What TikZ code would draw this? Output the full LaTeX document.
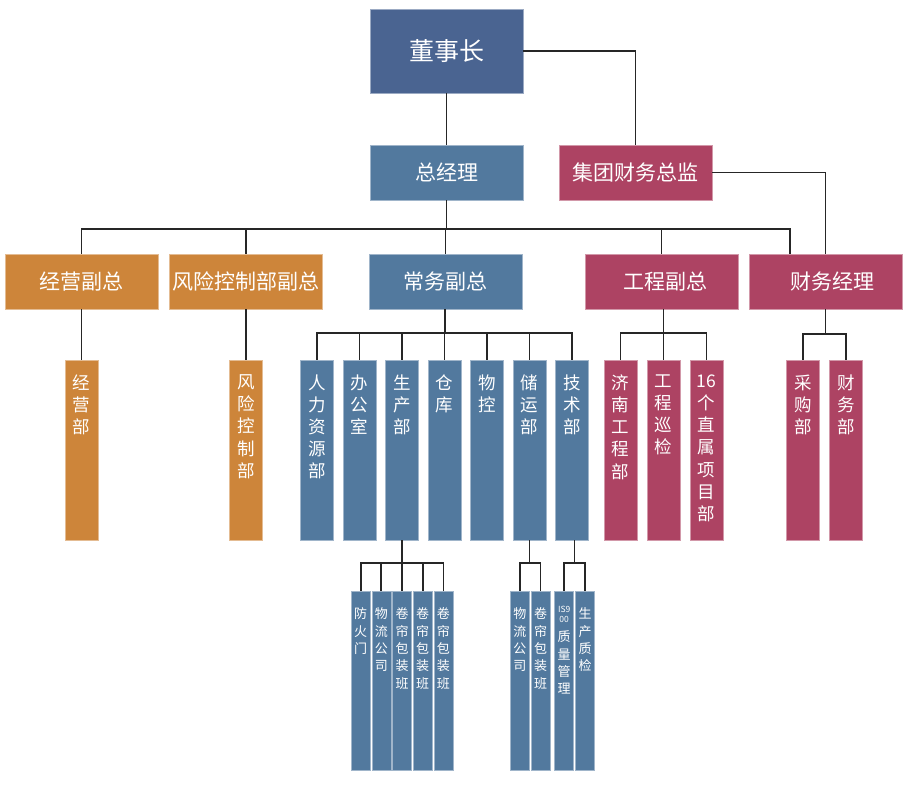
\documentclass[tikz,border=0pt]{standalone}
\usepackage{fontspec}
\setmainfont{Noto Sans CJK SC}
\definecolor{cTop}{HTML}{4A6491}
\definecolor{cBlue}{HTML}{52799E}
\definecolor{cRed}{HTML}{AD4363}
\definecolor{cOrg}{HTML}{CD853A}
\definecolor{cLine}{HTML}{262626}
\tikzset{
  ubox/.style={draw=#1!55!white, line width=0.6pt, fill=#1, inner sep=0pt, text=white},
  hbox/.style={ubox=#1, minimum width=153pt, minimum height=55pt, font=\fontsize{21}{25}\selectfont},
  colbox/.style={ubox=#1, minimum width=33pt, minimum height=180pt},
  subbox/.style={ubox=#1, minimum width=19pt, minimum height=179pt},
  coltext/.style={anchor=north, inner sep=0pt, align=center, text=white, font=\fontsize{17.5}{22.1}\selectfont},
  subtext/.style={anchor=north, inner sep=0pt, align=center, text=white, font=\fontsize{13}{17.3}\selectfont},
  conn/.style={draw=cLine, line width=1.3pt},
  connb/.style={draw=cLine, line width=1.8pt},
}
\newcommand\orgcol[4]{%
  \node[colbox=#3] (#1) at (#2,450) {};
  \node[coltext] (#1t) at ([yshift=-15pt]#1.north) {#4};}
\newcommand\orgsub[4]{%
  \node[subbox=#3] (#1) at (#2,680.5) {};
  \node[subtext] (#1t) at ([yshift=-17pt]#1.north) {#4};}
\begin{document}
\begin{tikzpicture}[x=1pt,y=-1pt]
\useasboundingbox[fill=white] (0,0) rectangle (910,793);
% top levels
\node[ubox=cTop, minimum width=153pt, minimum height=84pt, font=\fontsize{25}{30}\selectfont] (dsz) at (446.5,51) {董事长};
\node[hbox=cBlue] (zjl) at (446.5,172.5) {总经理};
\node[hbox=cRed] (cfo) at (635.5,172.5) {集团财务总监};
% level 2
\node[hbox=cOrg] (jyfz) at (81.5,281.5) {经营副总};
\node[hbox=cOrg] (fxfz) at (246,281.5) {风险控制部副总};
\node[hbox=cBlue] (cwfz) at (445.5,281.5) {常务副总};
\node[hbox=cRed] (gcfz) at (661.5,281.5) {\raisebox{-2pt}{\hspace*{7pt}工程副总}};
\node[hbox=cRed] (cwjl) at (825.5,281.5) {\hspace*{13pt}财务经理};
% level 3
\orgcol{jyb}{81.5}{cOrg}{经\\营\\部}
\orgcol{fxb}{246}{cOrg}{风\\险\\控\\制\\部}
\orgcol{rl}{317}{cBlue}{人\\力\\资\\源\\部}
\orgcol{bgs}{359.5}{cBlue}{办\\公\\室}
\orgcol{scb}{402}{cBlue}{生\\产\\部}
\orgcol{ck}{444.5}{cBlue}{仓\\库}
\orgcol{wk}{487}{cBlue}{物\\控}
\orgcol{cyb}{529.5}{cBlue}{储\\运\\部}
\orgcol{jsb}{572}{cBlue}{技\\术\\部}
\orgcol{jngc}{620.5}{cRed}{济\\南\\工\\程\\部}
\orgcol{gcxj}{663.5}{cRed}{工\\程\\巡\\检}
\orgcol{zsxm}{706.5}{cRed}{16\\个\\直\\属\\项\\目\\部}
\orgcol{cgb}{803}{cRed}{采\\购\\部}
\orgcol{cwb}{846}{cRed}{财\\务\\部}
% level 4
\orgsub{fhm}{360.6}{cBlue}{防\\火\\门}
\orgsub{wlgs}{381.3}{cBlue}{物\\流\\公\\司}
\orgsub{jla}{402}{cBlue}{卷\\帘\\包\\装\\班}
\orgsub{jlb}{422.7}{cBlue}{卷\\帘\\包\\装\\班}
\orgsub{jlc}{443.4}{cBlue}{卷\\帘\\包\\装\\班}
\orgsub{wlgsb}{519.8}{cBlue}{物\\流\\公\\司}
\orgsub{jld}{540.5}{cBlue}{卷\\帘\\包\\装\\班}
\node[subbox=cBlue] (iso) at (564.2,680.5) {};
\node[anchor=north, inner sep=0pt, align=center, text=white, font=\fontsize{8.5}{10}\selectfont] (isot) at ([yshift=-15pt]iso.north) {IS9\\00};
\node[subtext] (isoq) at ([yshift=-40pt]iso.north) {质\\量\\管\\理};
\orgsub{sczj}{585}{cBlue}{生\\产\\质\\检}
% connectors top
\draw[conn] (dsz.south) -- (zjl.north);
\draw[conn] (dsz.east) -| (cfo.north);
\draw[conn] (cfo.east) -| (cwjl.north);
\coordinate (bus1) at (446.5,229);
\coordinate (fmin) at (790,254);
\draw[conn] (zjl.south) -- (bus1);
\draw[conn] (bus1) -| (jyfz.north);
\draw[conn] (bus1) -| (fxfz.north);
\draw[conn] (bus1) -| (cwfz.north);
\draw[conn] (bus1) -| (gcfz.north);
\draw[conn] (bus1) -| (fmin);
% level 2 -> 3
\draw[conn] (jyfz.south) -- (jyb.north);
\draw[conn] (fxfz.south) -- (fxb.north);
\coordinate (bus2) at (445,333);
\draw[connb] (bus2 |- cwfz.south) -- (bus2);
\foreach \n in {rl,bgs,scb,ck,wk,cyb,jsb} \draw[connb] (bus2) -| (\n.north);
\coordinate (bus4) at (663.5,333);
\draw[connb] (bus4 |- gcfz.south) -- (bus4);
\foreach \n in {jngc,gcxj,zsxm} \draw[connb] (bus4) -| (\n.north);
\coordinate (bus5) at (825.5,334);
\draw[connb] (cwjl.south) -- (bus5);
\foreach \n in {cgb,cwb} \draw[connb] (bus5) -| (\n.north);
% level 3 -> 4
\coordinate (bus6) at (402,563);
\draw[connb] (scb.south) -- (bus6);
\foreach \n in {fhm,wlgs,jla,jlb,jlc} \draw[connb] (bus6) -| (\n.north);
\coordinate (bus7) at (529.5,563);
\draw[connb] (cyb.south) -- (bus7);
\foreach \n in {wlgsb,jld} \draw[connb] (bus7) -| (\n.north);
\coordinate (bus8) at (574.5,563);
\draw[connb] (bus8 |- jsb.south) -- (bus8);
\foreach \n in {iso,sczj} \draw[connb] (bus8) -| (\n.north);
\end{tikzpicture}
\end{document}
